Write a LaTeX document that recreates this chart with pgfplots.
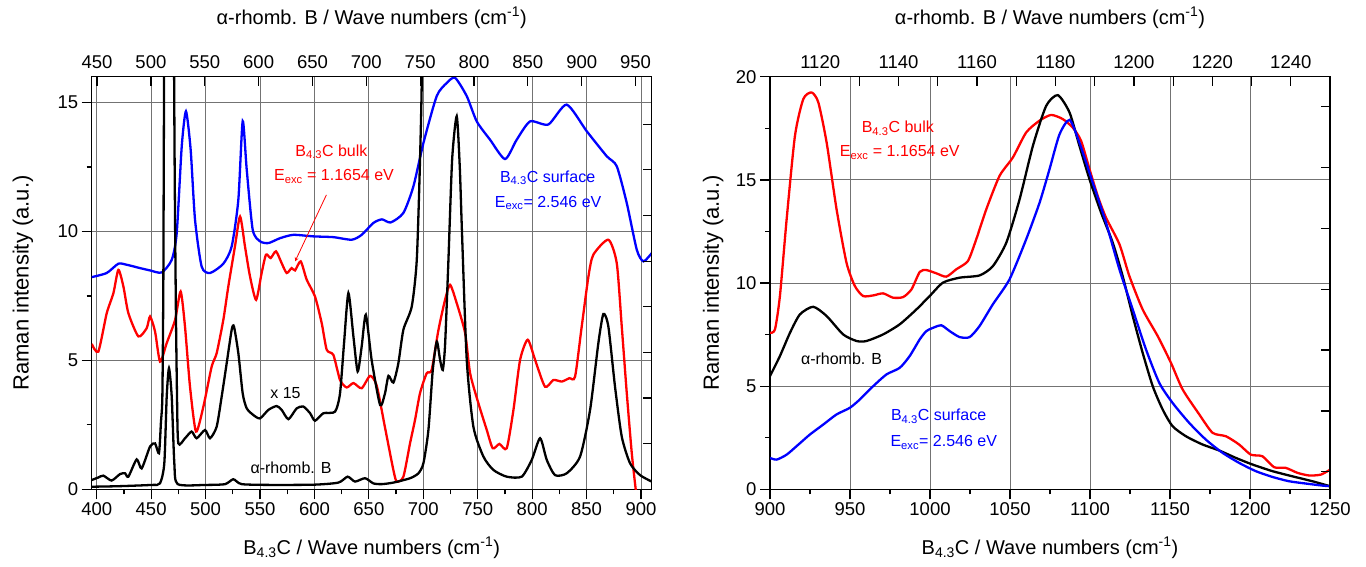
\documentclass[border=0pt]{standalone}
\usepackage{fontspec}
\setmainfont{Liberation Sans}
\usepackage{pgfplots}
\pgfplotsset{compat=1.18}

\pgfplotsset{
  raman/.style={
    scale only axis, width=560pt, height=412.5pt,
    /pgf/number format/assume math mode=true,
    /pgf/number format/1000 sep={},
    scaled ticks=false,
    tick label style={font=\fontsize{18.5}{21}\selectfont},
    xlabel style={font=\fontsize{20}{24}\selectfont},
    ylabel style={font=\fontsize{22}{26}\selectfont},
    axis line style={line width=1.4pt},
    tick style={black, line width=1.2pt},
    major tick length=10pt, minor tick length=5pt,
    tick align=outside,
    major grid style={black!55, line width=0.9pt},
  },
  upper/.style={
    raman, axis x line*=top, axis y line*=right,
    tick align=inside, yticklabels={},
    major tick length=9pt, minor tick length=9pt,
    xticklabel style={yshift=5pt},
    xlabel style={at={(axis description cs:0.5,1.1426)}, anchor=center},
  },
  curve/.style={line width=2.3pt, smooth, tension=0.4},
}
\newcommand{\Bfc}{B\textsubscript{4.3}C}

\begin{document}
\begin{tikzpicture}
\useasboundingbox (0pt,-77.7pt) rectangle (1366pt,489.3pt);

% ---------- left panel ----------
\begin{axis}[raman, at={(91.7pt,0pt)}, anchor=south west,
  xmin=395.4, xmax=909.8, ymin=0, ymax=16,
  xtick={400,450,...,900}, minor x tick num=1,
  ytick={0,5,10,15}, minor y tick num=1,
  xtick pos=bottom, ytick pos=left, grid=major,
  xlabel={\Bfc{} / Wave numbers (cm\textsuperscript{-1})},
  xlabel style={at={(axis description cs:0.5,-0.1423)}, anchor=center},
  ylabel={Raman intensity (a.u.)},
  ylabel style={at={(axis description cs:-0.1227,0.5)}, anchor=center},
]
% B4.3C surface
\addplot[blue, curve] coordinates {
(395.4,8.23)(409.2,8.39)(419.9,8.75)(427.5,8.71)(439.8,8.58)(449,8.49)
(459.7,8.41)(468.9,8.9)(473.5,9.94)(478.1,13.3)(482.0,14.66)(486.3,13.17)
(490.3,10.46)(496.4,8.64)(504.1,8.39)(516.3,8.75)(524,9.42)(530.1,11.23)
(534.1,14.28)(537.8,12.4)(543.3,10.07)(550,9.62)(557.7,9.55)(568.4,9.74)
(580.6,9.87)(599,9.81)(617.4,9.78)(634.2,9.68)(643.4,9.87)(654.1,10.33)
(662,10.47)(670,10.35)(681.7,10.72)(690.9,11.75)(700.1,13.43)(712.3,15.25)
(721.5,15.76)(729.2,15.96)(739.9,15.25)(749.1,14.27)(761.3,13.56)(775.1,12.81)
(785.8,13.56)(798.1,14.27)(814.9,14.15)(831.7,14.92)(850.1,13.89)(868.5,12.92)
(877.7,12.53)(886.9,11.1)(896.1,9.29)(902.2,8.84)(909.8,9.16)};
% B4.3C bulk
\addplot[red, curve] coordinates {
(395.4,5.64)(401.5,5.34)(409.2,6.83)(415.3,7.6)(419.9,8.51)(424.5,7.87)
(429.1,6.83)(438.3,5.93)(445.9,6.25)(449,6.7)(453.6,6.12)(458.2,4.95)
(464.3,5.67)(472,6.57)(477.1,7.67)(481.1,6.31)(485.7,3.98)(491.2,2.24)
(498,3.21)(505.6,4.76)(510.2,5.28)(516.3,6.57)(520.9,7.87)(527,9.42)
(531.7,10.58)(536.2,9.42)(540.8,8.26)(546.4,7.35)(551.5,8.39)(555.5,9.1)
(559.8,8.97)(564.7,9.23)(569.9,8.77)(574.5,8.39)(579.1,8.58)(582.2,8.49)
(587.4,8.84)(592.9,8.13)(600.5,7.48)(606.7,6.44)(611.3,5.41)(617.4,5.21)
(623.5,4.24)(629.6,3.95)(635.8,4.12)(643.4,3.92)(651.1,4.4)(657.2,4.02)
(664.8,2.4)(672.5,0.75)(675.6,0.3)(681.7,0.49)(687.8,1.78)(692.4,2.69)
(697,3.73)(703.1,4.5)(707.7,4.63)(713.9,6.18)(720,7.35)(724.6,7.93)
(730.7,7.22)(738.4,6.06)(743,4.5)(750.6,3.34)(758.3,2.3)(763.8,1.59)
(769.9,1.76)(776.6,1.59)(782.8,3.08)(788.9,5.02)(795.9,5.8)(802.7,5.02)
(811.8,3.98)(819.5,4.24)(827.2,4.18)(834.2,4.31)(839.4,4.37)(845.5,6.31)
(851.7,8.26)(856.2,9.1)(870,9.68)(877.7,8.77)(882.3,6.31)(886.9,3.73)
(891.5,1.4)(895.1,0)(897,-0.6)};
% alpha-rhomb. B x 15
\addplot[black, curve] coordinates {
(395.4,0.36)(401,0.45)(406.1,0.53)(413.7,0.34)(421.4,0.59)(426,0.62)
(429.1,0.49)(436.7,1.16)(441.3,0.81)(449,1.66)(453.6,1.78)(457.2,1.4)
(459,2.6)(460.3,3.6)(461.2,8)(462,17)(466.5,60)(471,17)(472.5,8)
(473.8,3.5)(475,1.78)(481.1,1.98)(487.2,2.24)(491.8,1.98)(499.5,2.3)
(504.1,1.98)(510.2,2.43)(514.8,3.6)(519.4,4.89)(524,6.19)(526.1,6.31)
(530.1,5.28)(534.1,3.72)(537.8,3.14)(543.9,2.88)(550,2.75)(557.7,3.08)
(565.3,3.23)(569.9,3.08)(576.1,2.72)(583.7,3.14)(589.8,3.21)(596,2.95)
(600.5,2.66)(608.2,2.95)(618.9,3.01)(623.5,3.72)(627.2,5.67)(631.2,7.61)
(635.8,5.93)(639.7,4.57)(643.4,5.54)(647.2,6.77)(652.6,5.0)(660.3,3.27)
(664.8,3.72)(668,4.4)(672.5,4.14)(677.1,4.89)(681.7,6.19)(689.4,7.09)
(694,8.9)(697,12.8)(699,17)(702,30)};
% alpha-rhomb. B
\addplot[black, curve] coordinates {
(395.4,0.1)(420,0.12)(450.5,0.17)(458.1,0.23)(462.1,1.01)(464.3,3.6)
(466.4,4.7)(468.9,3.6)(471.3,1.01)(474.4,0.2)(500,0.17)(517.9,0.2)
(525.5,0.39)(533.2,0.2)(560,0.17)(600,0.18)(622,0.26)(630.5,0.49)
(637.3,0.3)(646.5,0.43)(654.1,0.23)(661.8,0.2)(672.5,0.26)(687.9,0.43)
(695.5,0.62)(700.1,1.01)(704.7,2.3)(708.7,4.63)(712.4,5.73)(715.4,5.02)
(717.9,4.63)(720,5.6)(723,8.8)(726.5,12.8)(730.7,14.47)(733.5,12.5)
(735.5,10)(739.9,5.02)(746,2.43)(755.2,1.27)(764.4,0.75)(776.6,0.49)
(790.4,0.49)(799.6,1.14)(807.3,1.98)(813.4,1.14)(821,0.55)(831.7,0.62)
(844,1.27)(853.2,3.08)(860.8,5.67)(865.4,6.8)(870,6.31)(876.1,3.98)
(882.3,2.04)(889.9,1.01)(899.1,0.55)(909.8,0.3)};

\node[red, font=\fontsize{16}{19}\selectfont] at (axis cs:615.6,13.1) {\Bfc{} bulk};
\node[red, font=\fontsize{16}{19}\selectfont] at (axis cs:618,12.14) {E\textsubscript{exc} = 1.1654 eV};
\draw[red, line width=0.8pt, -stealth] (axis cs:611,11.42) -- (axis cs:582.2,8.84);
\node[blue, font=\fontsize{16}{19}\selectfont] at (axis cs:814.2,12.08) {\Bfc{} surface};
\node[blue, font=\fontsize{16}{19}\selectfont] at (axis cs:814.7,11.1) {E\textsubscript{exc}= 2.546 eV};
\node[font=\fontsize{16}{19}\selectfont] at (axis cs:573.4,3.73) {x 15};
\node[font=\fontsize{16}{19}\selectfont] at (axis cs:578.5,0.82) {α-rhomb. B};
\end{axis}

\begin{axis}[upper, at={(91.7pt,0pt)}, anchor=south west,
  xmin=445, xmax=965, ymin=0, ymax=16,
  xtick={450,500,...,950},
  ytick={1.77,3.54,5.31,7.08,8.85,10.62,12.39,14.16},
  xlabel={α-rhomb. B / Wave numbers (cm\textsuperscript{-1})},
]
\end{axis}

% ---------- right panel ----------
\begin{axis}[raman, at={(770pt,0pt)}, anchor=south west,
  xmin=900, xmax=1250, ymin=0, ymax=20,
  xtick={900,950,...,1250}, minor x tick num=1,
  ytick={0,5,...,20}, minor y tick num=1,
  xtick pos=bottom, ytick pos=left, grid=major,
  xlabel={\Bfc{} / Wave numbers (cm\textsuperscript{-1})},
  xlabel style={at={(axis description cs:0.5,-0.1423)}, anchor=center},
  ylabel={Raman intensity (a.u.)},
  ylabel style={at={(axis description cs:-0.1016,0.5)}, anchor=center},
]
\addplot[red, curve] coordinates {
(900,7.59)(903.1,7.75)(906.2,9.37)(910.4,13.09)(915.6,17.14)(920.8,18.92)
(926,19.24)(930.2,18.76)(935.4,16.81)(941.6,13.58)(947.8,10.99)(953,9.86)
(958.2,9.37)(964.5,9.4)(970.7,9.5)(976.9,9.29)(983.2,9.32)(988.4,9.69)
(993.6,10.54)(997.7,10.63)(1004,10.47)(1010.2,10.31)(1016.5,10.67)(1023.7,11.07)
(1028.9,12.12)(1035.2,13.58)(1043.5,15.2)(1051.8,16.09)(1060.1,17.3)(1068.4,17.87)
(1075.7,18.15)(1083,17.95)(1089.2,17.54)(1094.4,16.9)(1099.7,15.52)(1104.8,14.23)
(1110,13.17)(1118.4,11.88)(1124.6,10.34)(1132.9,8.72)(1142.3,7.43)(1150.6,6.13)
(1157.9,4.84)(1168.3,3.63)(1176.6,2.74)(1185,2.57)(1193.2,2.17)(1200.5,1.68)
(1207.8,1.6)(1215.1,1.07)(1222.3,1.04)(1229.6,0.8)(1236.9,0.67)(1244.2,0.71)
(1250,0.95)};
\addplot[black, curve] coordinates {
(900,5.49)(906.2,6.46)(912.5,7.59)(918.7,8.48)(927,8.85)(935.4,8.4)
(945.7,7.51)(954.1,7.19)(960.3,7.19)(970.7,7.51)(981.1,8)(991.5,8.72)
(999.8,9.37)(1008.1,10.02)(1018.5,10.26)(1031,10.37)(1039.3,10.82)(1047.7,11.96)
(1056,14.06)(1064.3,16.65)(1072.6,18.59)(1079.9,19.11)(1087.2,18.27)(1093.4,16.65)
(1099.7,15.03)(1106.9,13.42)(1114.2,11.96)(1120.4,10.34)(1126.7,8.4)(1132.9,6.62)
(1139.2,5.0)(1145.4,3.87)(1151.6,3.06)(1160,2.57)(1170.4,2.17)(1180.8,1.88)
(1191.2,1.52)(1201.6,1.2)(1214,0.88)(1226.5,0.63)(1239,0.39)(1250,0.15)};
\addplot[blue, curve] coordinates {
(900,1.52)(904.2,1.44)(910.4,1.68)(916.6,2.09)(925,2.66)(933.3,3.14)
(941.6,3.63)(949.9,3.95)(956.2,4.36)(964.5,5.0)(972.8,5.57)(981.1,5.89)
(987.3,6.46)(993.6,7.27)(997.7,7.67)(1001.9,7.83)(1007.1,7.95)(1012.3,7.67)
(1018.5,7.38)(1024.8,7.38)(1031,7.92)(1039.3,8.97)(1049.7,10.18)(1060.1,12.12)
(1068.5,13.9)(1074.7,15.52)(1080.9,17.2)(1087.2,17.91)(1093.4,16.81)(1101.7,14.87)
(1110,12.93)(1118.4,10.66)(1126.7,8.72)(1135,6.78)(1143.3,5.16)(1151.6,4.19)
(1162,3.22)(1172.4,2.41)(1182.8,1.77)(1193.2,1.28)(1203.6,0.88)(1214,0.6)
(1224.4,0.39)(1234.8,0.28)(1245.2,0.18)(1250,0.15)};

\node[red, font=\fontsize{16}{19}\selectfont] at (axis cs:979.9,17.5) {\Bfc{} bulk};
\node[red, font=\fontsize{16}{19}\selectfont] at (axis cs:981.1,16.33) {E\textsubscript{exc} = 1.1654 eV};
\node[font=\fontsize{16}{19}\selectfont] at (axis cs:944.7,6.33) {α-rhomb. B};
\node[blue, font=\fontsize{16}{19}\selectfont] at (axis cs:1005.4,3.54) {\Bfc{} surface};
\node[blue, font=\fontsize{16}{19}\selectfont] at (axis cs:1008.6,2.28) {E\textsubscript{exc}= 2.546 eV};
\end{axis}

\begin{axis}[upper, at={(770pt,0pt)}, anchor=south west,
  xmin=1107.2, xmax=1250, ymin=0, ymax=20,
  xtick={1120,1140,...,1240}, minor x tick num=1,
  ytick={0.85,3.8,6.75,9.7,12.65,15.6,18.55},
  xlabel={α-rhomb. B / Wave numbers (cm\textsuperscript{-1})},
]
\end{axis}
\end{tikzpicture}
\end{document}
